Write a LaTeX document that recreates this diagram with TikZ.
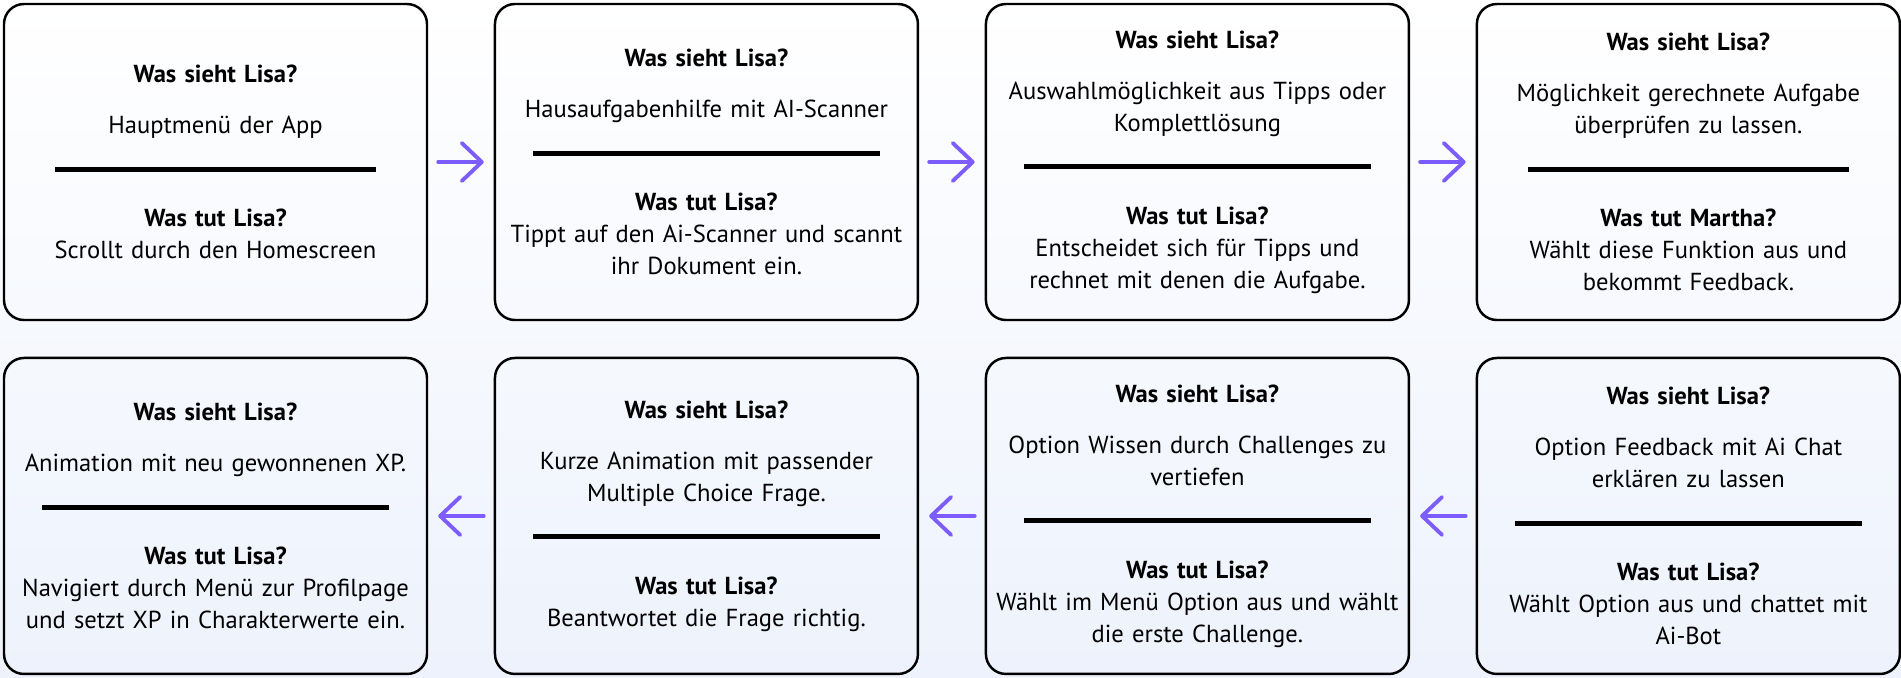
\documentclass[tikz,border=0pt]{standalone}
\usepackage{fontspec}
\setmainfont{PT Sans}
\usepackage{xcolor}
\definecolor{flowpurple}{HTML}{7C5CFA}
\definecolor{paleblue}{HTML}{EDF2FC}
\usepackage{tikz}
\usetikzlibrary{positioning, arrows.meta}

% text of one journey card: what Lisa sees, a divider, what she does
\newcommand{\cardtext}[4][3.47cm]{%
  \textbf{Was sieht Lisa?}\\[0.19cm]
  #2\\[0.06cm]
  \rule{#1}{0.05cm}\\[0.23cm]
  \textbf{Was tut #3?}\\
  #4}

\begin{document}
\begin{tikzpicture}[
            node distance=0.355cm and 0.655cm,
            card/.style={rectangle, draw=black, rounded corners=0.2cm, line width=0.7pt, inner sep=0.5mm, minimum width=4.23cm, minimum height=3.16cm, text width=4.1cm, align=center, font=\fontsize{7}{9.1}\selectfont},
            flow/.style={-{Straight Barb[length=0.2cm, width=0.38cm, round]}, line width=1.1pt, flowpurple, line cap=round, shorten <=0.1cm, shorten >=0.1cm}
        ]
            % Background
            \fill[top color=white, bottom color=paleblue] (0,0) rectangle (19.01,-6.77);
            \useasboundingbox (0,0) rectangle (19.01,-6.77);

            % Upper row
            \node[card] (menu) at (2.155,-1.62) {\cardtext[3.21cm]{Hauptmenü der App}{Lisa}{Scrollt durch den Homescreen}};
            \node[card, right=of menu] (scanner) {\cardtext{Hausaufgabenhilfe mit AI-Scanner}{Lisa}{Tippt auf den Ai-Scanner und scannt\\ihr Dokument ein.}};
            \node[card, right=of scanner] (tips) {\cardtext{Auswahlmöglichkeit aus Tipps oder\\Komplettlösung}{Lisa}{Entscheidet sich für Tipps und\\rechnet mit denen die Aufgabe.}};
            \node[card, right=of tips] (check) {\cardtext[3.21cm]{Möglichkeit gerechnete Aufgabe\\überprüfen zu lassen.}{Martha}{Wählt diese Funktion aus und\\bekommt Feedback.}};

            % Lower row
            \node[card, below=of menu] (profile) {\cardtext{Animation mit neu gewonnenen XP.}{Lisa}{Navigiert durch Menü zur Profilpage\\und setzt XP in Charakterwerte ein.}};
            \node[card, right=of profile] (quiz) {\cardtext{Kurze Animation mit passender\\Multiple Choice Frage.}{Lisa}{Beantwortet die Frage richtig.}};
            \node[card, right=of quiz] (challenge) {\cardtext{Option Wissen durch Challenges zu\\vertiefen}{Lisa}{Wählt im Menü Option aus und wählt\\die erste Challenge.}};
            \node[card, right=of challenge] (chat) {\cardtext{Option Feedback mit Ai Chat\\erklären zu lassen}{Lisa}{Wählt Option aus und chattet mit\\Ai-Bot}};

            % Arrows
            \draw[flow] (menu) -- (scanner);
            \draw[flow] (scanner) -- (tips);
            \draw[flow] (tips) -- (check);
            \draw[flow] (chat) -- (challenge);
            \draw[flow] (challenge) -- (quiz);
            \draw[flow] (quiz) -- (profile);
        \end{tikzpicture}
\end{document}
